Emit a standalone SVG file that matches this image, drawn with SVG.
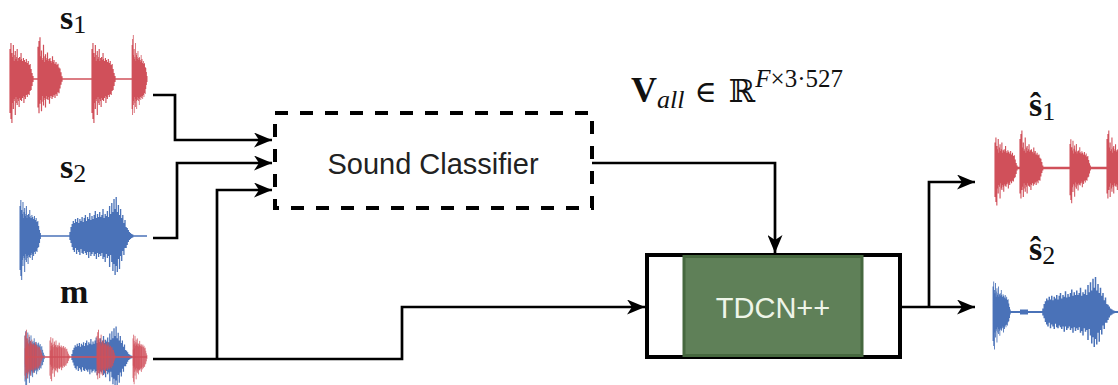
<svg xmlns="http://www.w3.org/2000/svg" xmlns:xlink="http://www.w3.org/1999/xlink" width="1118" height="385" viewBox="0 0 1118 385">
  <style>
    .conn { fill: none; stroke: #000; stroke-width: 2.7; }
    .lbl { font-family: "Liberation Serif", "DejaVu Serif", serif; fill: #111; }
    .box-label { font-family: "Liberation Sans", Arial, sans-serif; font-size: 29px; text-anchor: middle; }
    .red { stroke: #d0505a; fill: none; }
    .blue { stroke: #4a72b8; fill: none; }
  </style>
  <defs>
    <marker id="arrow" markerUnits="userSpaceOnUse" markerWidth="18" markerHeight="15" refX="18" refY="7.5" orient="auto">
      <path d="M0,0 L18,7.5 L0,15 L5,7.5 Z" fill="#000"/>
    </marker>
    <!-- percussive burst: spiky onset, dense body, quick fade -->
    <path id="bA" stroke-width="1.2" d="M0-30V34M0.5-12V14M1-36V40M1.5-20V18M2-26V44M2.5-14V16M3-22V24M3.5-34V30M4-18V20M5-24V22M5.5-28V36M6-20V18M7-22V24M7.5-30V26M8-18V20M9-21V22M9.5-17V28M10-22V19M11-19V21M11.5-26V20M12-20V22M13-18V19M14-21V17M14.5-16V24M15-19V18M16-17V20M17-20V16M18-16V18M19-18V15M20-14V16M21-15V12M22-10V11M23-6V7M24-3V3"/>
    <!-- swelling burst: jagged body rising to a peak, then fading -->
    <path id="bB" stroke-width="1.2" d="M0-4V4M1-9V7M2-12V11M3-15V14M4-13V16M5-17V12M6-14V18M7-18V14M8-13V16M9-17V19M10-15V13M11-19V17M12-14V18M13-18V15M14-21V17M15-15V19M16-19V16M17-17V22M18-23V16M19-16V20M20-20V18M21-17V16M22-21V20M23-25V18M24-18V23M25-22V17M26-19V21M27-24V18M28-19V20M29-21V17M30-27V23M31-18V21M32-22V26M33-20V18M34-25V22M35-19V20M36-30V31M37-22V19M38-33V26M39-24V35M40-37V28M41-27V39M42-39V30M43-24V36M44-31V23M45-21V33M46-27V20M47-18V25M48-21V15M49-13V19M50-16V12M51-9V12M52-8V9M53-6V6M54-4V4M55-3V3M56-2V2M57-1.5V1.5"/>
  </defs>

  <!-- input waveforms -->
  <g id="wave-s1" class="red">
    <path d="M10,79H147" stroke-width="1.6"/>
    <use xlink:href="#bA" transform="translate(10,79) scale(0.96,1)"/>
    <use xlink:href="#bA" transform="translate(38,79) scale(1,-0.95)"/>
    <use xlink:href="#bA" transform="translate(92,79) scale(0.96,1)"/>
    <use xlink:href="#bA" transform="translate(132,79) scale(0.63,-1)"/>
  </g>
  <g id="wave-s2" class="blue">
    <path d="M20,236H147" stroke-width="1.6"/>
    <use xlink:href="#bA" transform="translate(20,236) scale(0.85,1)"/>
    <use xlink:href="#bB" transform="translate(70,236) scale(1.1,1)"/>
  </g>
  <g id="wave-m">
    <g class="blue">
      <use xlink:href="#bA" transform="translate(25,357) scale(0.8,0.72)"/>
      <use xlink:href="#bB" transform="translate(72,357) scale(1.05,0.78)"/>
    </g>
    <g class="red">
      <path d="M25,357H147" stroke-width="1.6"/>
      <use xlink:href="#bA" transform="translate(25,357) scale(0.72,-0.62)"/>
      <use xlink:href="#bA" transform="translate(50,357) scale(0.8,0.55)"/>
      <use xlink:href="#bA" transform="translate(97,357) scale(0.75,-0.62)"/>
      <use xlink:href="#bA" transform="translate(133,357) scale(0.58,0.62)"/>
    </g>
  </g>

  <!-- output waveforms -->
  <g id="wave-s1-hat" class="red">
    <path d="M995,168H1118" stroke-width="2.4"/>
    <use xlink:href="#bA" transform="translate(995,168) scale(0.92,0.85)"/>
    <use xlink:href="#bA" transform="translate(1020,168) scale(0.95,-0.85)"/>
    <use xlink:href="#bA" transform="translate(1070,168) scale(0.85,0.8)"/>
    <use xlink:href="#bA" transform="translate(1107,168) scale(0.9,-0.85)"/>
  </g>
  <g id="wave-s2-hat" class="blue">
    <path d="M993,312H1118" stroke-width="1.8"/>
    <path d="M1020,312h8" stroke-width="5"/>
    <use xlink:href="#bA" transform="translate(993,312) scale(0.72,0.85)"/>
    <use xlink:href="#bB" transform="translate(1043,312) scale(1.25,0.9)"/>
  </g>

  <!-- labels -->
  <g id="labels" class="lbl">
    <text x="60" y="29" font-size="34" font-weight="bold">s<tspan font-size="26" font-weight="normal" dy="4">1</tspan></text>
    <text x="60" y="178" font-size="34" font-weight="bold">s<tspan font-size="26" font-weight="normal" dy="4">2</tspan></text>
    <text x="60" y="303" font-size="34" font-weight="bold">m</text>
    <text x="1029" y="116" font-size="34" font-weight="bold">ŝ<tspan font-size="26" font-weight="normal" dy="4">1</tspan></text>
    <text x="1029" y="260" font-size="34" font-weight="bold">ŝ<tspan font-size="26" font-weight="normal" dy="4">2</tspan></text>
    <text x="631" y="102" font-size="36"><tspan font-weight="bold">V</tspan><tspan font-style="italic" font-size="26" dy="6">all</tspan><tspan dy="-6" dx="10" font-size="30">∈</tspan><tspan dx="12" font-size="32" font-family="DejaVu Serif, serif">ℝ</tspan><tspan font-size="25" dy="-15"><tspan font-style="italic">F</tspan>×3·527</tspan></text>
  </g>

  <!-- connectors -->
  <g id="connectors">
    <path class="conn" d="M153,95H175V140H272" marker-end="url(#arrow)"/>
    <path class="conn" d="M153,238H177V163H272" marker-end="url(#arrow)"/>
    <path class="conn" d="M217,359V190H272" marker-end="url(#arrow)"/>
    <path class="conn" d="M153,359H402V307H645" marker-end="url(#arrow)"/>
    <path class="conn" d="M592,163H775V253" marker-end="url(#arrow)"/>
    <path class="conn" d="M900,307H975" marker-end="url(#arrow)"/>
    <path class="conn" d="M929,307V182H975" marker-end="url(#arrow)"/>
  </g>

  <!-- sound classifier -->
  <g id="sound-classifier">
    <rect x="275" y="113" width="317" height="95" fill="none" stroke="#000" stroke-width="4" stroke-dasharray="13 12"/>
    <text class="box-label" x="433" y="174" fill="#222">Sound Classifier</text>
  </g>

  <!-- separator network -->
  <g id="tdcn">
    <rect x="647" y="255" width="253" height="102" fill="#fff" stroke="#000" stroke-width="4"/>
    <rect x="684" y="256.5" width="178" height="99" fill="#5f8058" stroke="#46683f" stroke-width="3"/>
    <text class="box-label" x="773" y="318" fill="#eef5e8">TDCN++</text>
  </g>
</svg>
